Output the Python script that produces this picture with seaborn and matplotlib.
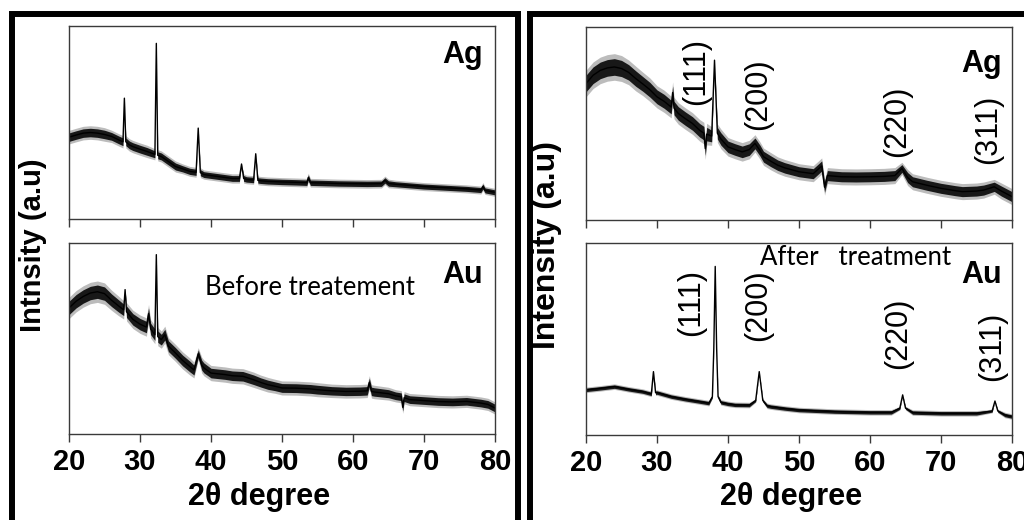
import matplotlib
matplotlib.use("Agg")
import matplotlib.pyplot as plt
from matplotlib.patches import Rectangle
from matplotlib.transforms import blended_transform_factory
import numpy as np
import pandas as pd
import seaborn as sns

# ---------------- XRD traces (2-theta in degrees, intensity in a.u.) ----------------
# Ag, before treatment
AG_BEFORE_X = [20, 21, 22, 23, 24, 25, 26, 27, 27.6, 27.8, 28.0, 28.5, 29, 30, 31,
               32.1, 32.3, 32.5, 33, 34, 35, 36, 37, 37.9, 38.2, 38.5, 39, 40, 41, 42,
               43, 44.0, 44.3, 44.6, 45, 46.0, 46.3, 46.6, 47, 48, 50, 52, 53.5, 53.7, 54,
               56, 58, 60, 62, 64, 64.5, 65, 66, 68, 70, 72, 74, 76, 78, 78.3, 78.6, 80]
AG_BEFORE_Y = [42.4, 43.5, 44.5, 44.8, 44.5, 43.8, 42.8, 41.0, 40.0, 62.6, 40.0, 38.4, 37.5, 36.2, 35.0,
               33.5, 91.0, 33.0, 32.4, 29.8, 27.2, 26.0, 24.7, 24.2, 47.1, 24.0, 23.0, 22.5, 22.0, 21.5,
               21.0, 21.0, 28.5, 21.0, 20.5, 20.2, 33.8, 20.0, 19.8, 19.5, 19.2, 19.0, 18.8, 21.5, 18.8,
               18.6, 18.4, 18.3, 18.2, 18.3, 20.0, 18.4, 18.0, 17.4, 16.8, 16.4, 16.0, 15.6, 15.0, 16.8, 14.8, 13.8]
AG_BEFORE_NOISE = [2.2, 2.2, 2.2, 2.2, 2.2, 2.2, 2.0, 2.0, 2.0, 0.0, 2.0, 2.0, 2.0, 2.0, 2.0,
                   1.8, 0.0, 1.8, 1.8, 1.8, 1.8, 1.6, 1.6, 1.6, 0.0, 1.6, 1.5, 1.5, 1.5, 1.5,
                   1.5, 1.5, 0.0, 1.5, 1.4, 1.4, 0.0, 1.4, 1.4, 1.4, 1.4, 1.4, 1.4, 1.4, 1.4,
                   1.4, 1.4, 1.4, 1.4, 1.4, 1.4, 1.4, 1.3, 1.3, 1.3, 1.3, 1.3, 1.3, 1.3, 1.3, 1.3, 1.3]

# Au, before treatment
AU_BEFORE_X = [20, 21, 22, 23, 24, 25, 26, 27, 27.7, 27.9, 28.1, 29, 30, 30.9, 31.2, 31.5,
               32.1, 32.3, 32.5, 33, 33.5, 34, 35, 36, 37, 37.6, 38.2, 38.7, 39, 40, 41, 42,
               43, 44.5, 46, 47, 48, 49, 50, 52, 54, 55, 57, 59, 61, 62.0, 62.3, 62.6, 63,
               65, 66, 66.8, 67.0, 67.2, 68, 70, 72, 74, 76, 78, 79, 80]
AU_BEFORE_Y = [66.0, 69.5, 72.0, 73.8, 74.5, 73.5, 70.0, 67.0, 65.0, 75.6, 64.0, 60.0, 57.5, 56.0, 63.0, 55.0,
               52.0, 93.9, 51.0, 49.4, 52.0, 46.0, 42.4, 38.5, 35.4, 33.5, 42.0, 36.0, 34.6, 31.9, 31.5, 31.1,
               30.5, 30.2, 28.4, 27.0, 25.8, 25.0, 24.1, 24.0, 23.6, 23.2, 22.6, 22.3, 22.4, 22.6, 27.0, 22.3, 22.0,
               21.1, 20.0, 19.5, 14.0, 19.0, 18.0, 17.5, 17.0, 16.8, 17.1, 16.2, 15.5, 13.6]
AU_BEFORE_NOISE = [3.5, 3.5, 3.5, 3.5, 3.5, 3.5, 3.3, 3.2, 3.0, 0.0, 3.0, 3.0, 3.0, 3.0, 3.0, 3.0,
                   3.0, 0.0, 3.0, 2.8, 2.8, 2.8, 2.8, 2.8, 2.8, 2.6, 2.0, 2.6, 2.6, 2.5, 2.5, 2.5,
                   2.5, 2.5, 2.5, 2.4, 2.4, 2.3, 2.3, 2.3, 2.3, 2.3, 2.2, 2.2, 2.2, 2.2, 2.2, 2.2, 2.2,
                   2.1, 2.0, 2.0, 2.0, 2.0, 2.0, 2.0, 2.0, 2.0, 2.0, 2.0, 2.0, 2.0]

# Ag, after treatment
AG_AFTER_X = [20, 21, 22, 23, 24, 25, 26, 27, 28, 29, 30, 31, 32, 32.2, 32.4, 33, 34, 35,
              36, 36.6, 36.8, 37.0, 37.7, 38.1, 38.5, 39, 40, 41, 42, 43, 43.8, 44.5, 45,
              46, 47, 48, 50, 52, 53.2, 53.6, 54, 56, 58, 60, 62, 63.5, 64.5, 65.3, 66,
              68, 70, 72, 73, 75, 76, 77.5, 78.5, 80]
AG_AFTER_Y = [70.7, 75.0, 77.5, 78.8, 79.3, 78.5, 76.5, 73.3, 70.5, 67.5, 63.8, 61.5, 58.5, 66.0, 58.0, 55.2, 52.5, 50.0,
              46.5, 45.0, 37.0, 44.5, 43.5, 82.8, 45.0, 42.0, 37.9, 36.5, 35.3, 36.5, 39.7, 36.0, 32.8,
              30.5, 28.4, 27.0, 25.0, 24.0, 28.0, 17.0, 23.0, 22.4, 22.3, 22.4, 22.6, 23.0, 26.7, 22.0, 19.8,
              18.0, 16.4, 15.2, 14.7, 15.0, 15.5, 17.2, 15.0, 12.1]
AG_AFTER_NOISE = [4.3, 4.3, 4.3, 4.3, 4.3, 4.2, 4.0, 4.0, 3.8, 3.8, 3.6, 3.6, 3.5, 3.5, 3.5, 3.5, 3.5, 3.5,
                  3.5, 3.5, 3.5, 3.5, 3.0, 0.0, 3.0, 3.2, 3.0, 3.0, 3.0, 3.0, 2.8, 2.8, 2.8,
                  2.8, 2.7, 2.7, 2.6, 2.6, 2.6, 2.6, 2.6, 2.6, 2.6, 2.6, 2.6, 2.6, 2.0, 2.6, 2.6,
                  2.6, 2.6, 2.6, 2.6, 2.6, 2.6, 2.4, 2.6, 2.6]

# Au, after treatment
AU_AFTER_X = [20, 22, 24, 26, 28, 29.2, 29.5, 29.8, 30, 32, 34, 36, 37.3, 37.8, 38.0, 38.2,
              38.4, 38.6, 39, 40, 41, 43, 43.9, 44.2, 44.4, 44.6, 44.9, 45.5, 46, 48, 50, 55,
              60, 63, 64.2, 64.6, 65.0, 66, 70, 75, 77.2, 77.6, 78.0, 79, 80]
AU_AFTER_Y = [23.5, 24.3, 25.2, 23.8, 22.6, 21.4, 33.0, 22.0, 22.1, 20.0, 18.6, 17.4, 16.6, 20.0, 45.0, 87.8,
              45.0, 20.0, 17.0, 16.2, 15.7, 15.6, 18.0, 27.0, 33.0, 27.0, 18.0, 15.2, 14.8, 13.8, 13.0, 12.2,
              11.8, 11.8, 14.0, 20.9, 14.0, 11.7, 11.3, 11.3, 12.5, 17.7, 12.5, 10.4, 9.6]
AU_AFTER_NOISE = [0.9, 0.9, 0.9, 0.9, 0.9, 0.9, 0.0, 0.9, 0.9, 0.9, 0.9, 0.9, 0.9, 0.6, 0.3, 0.0,
                  0.3, 0.6, 0.9, 0.9, 0.9, 0.9, 0.6, 0.3, 0.0, 0.3, 0.6, 0.9, 0.9, 0.9, 0.9, 0.9,
                  0.9, 0.9, 0.6, 0.0, 0.6, 0.9, 0.9, 0.9, 0.6, 0.0, 0.6, 0.9, 0.9]

# Miller-index annotations (peak position, vertical position as axes fraction)
HKL_LABELS = ["(111)", "(200)", "(220)", "(311)"]
HKL_AG_X = [35.5, 44.2, 63.8, 76.6]
HKL_AG_Y = [0.767, 0.653, 0.513, 0.472]
HKL_AU_X = [34.8, 44.2, 63.9, 77.2]
HKL_AU_Y = [0.688, 0.677, 0.531, 0.464]

X_TICKS = [20, 30, 40, 50, 60, 70, 80]

# ---------------- style ----------------
sns.set_theme(style="white")
plt.rcParams["font.family"] = ["Liberation Sans", "DejaVu Sans"]
plt.rcParams["text.color"] = "black"
plt.rcParams["xtick.color"] = "#3a3a3a"
plt.rcParams["xtick.labelcolor"] = "black"
plt.rcParams["axes.edgecolor"] = "#3a3a3a"
plt.rcParams["axes.linewidth"] = 1.0

W, H = 1024, 520
fig = plt.figure(figsize=(W / 100, H / 100), dpi=100)
fig.patch.set_facecolor("white")


def px_axes(x0, y0, x1, y1):
    """Axes placed by pixel box (left, top, right, bottom)."""
    return fig.add_axes([x0 / W, 1 - y1 / H, (x1 - x0) / W, (y1 - y0) / H])


def draw_trace(ax, xs, ys, noise):
    df = pd.DataFrame({"two_theta": xs, "intensity": ys})
    y = np.asarray(ys, float)
    n = np.asarray(noise, float)
    # faint outer fringe, dense core, then the mean trace on top
    ax.fill_between(xs, y - 1.6 * n, y + 1.6 * n, color="#222222", alpha=0.30, linewidth=0)
    ax.fill_between(xs, y - n, y + n, color="#0a0a0a", alpha=0.92, linewidth=0)
    sns.lineplot(data=df, x="two_theta", y="intensity", ax=ax, color="black",
                 linewidth=1.0, estimator=None, sort=False)


def style_axes(ax, show_labels):
    ax.set_xlim(20, 80)
    ax.set_ylim(0, 100)
    ax.set_yticks([])
    ax.set_xticks(X_TICKS)
    ax.tick_params(axis="x", direction="out", length=6, width=1.0, color="#3a3a3a",
                   bottom=True, top=False, pad=4, labelbottom=show_labels,
                   labelsize=21, labelcolor="black")
    for lab in ax.get_xticklabels():
        lab.set_fontweight("bold")
    ax.set_xlabel("")
    ax.set_ylabel("")
    for sp in ax.spines.values():
        sp.set_visible(True)
        sp.set_color("#3a3a3a")


def corner_tag(ax, text, xfrac, yfrac):
    ax.text(xfrac, yfrac, text, transform=ax.transAxes, ha="right", va="baseline",
            fontsize=22, fontweight="bold", color="black")


# ---------------- left panel: before treatment ----------------
ax_l_ag = px_axes(69, 26, 495, 219)
ax_l_au = px_axes(69, 243, 495, 434)
draw_trace(ax_l_ag, AG_BEFORE_X, AG_BEFORE_Y, AG_BEFORE_NOISE)
draw_trace(ax_l_au, AU_BEFORE_X, AU_BEFORE_Y, AU_BEFORE_NOISE)
style_axes(ax_l_ag, False)
style_axes(ax_l_au, True)
corner_tag(ax_l_ag, "Ag", 0.972, 0.808)
corner_tag(ax_l_au, "Au", 0.972, 0.790)
ax_l_au.text(0.319, 0.728, "Before treatement", transform=ax_l_au.transAxes,
             ha="left", va="baseline", fontsize=18.5, family=["Lato", "DejaVu Sans"])

# ---------------- right panel: after treatment ----------------
ax_r_ag = px_axes(586, 27, 1012, 220)
ax_r_au = px_axes(586, 243, 1012, 435)
draw_trace(ax_r_ag, AG_AFTER_X, AG_AFTER_Y, AG_AFTER_NOISE)
draw_trace(ax_r_au, AU_AFTER_X, AU_AFTER_Y, AU_AFTER_NOISE)
style_axes(ax_r_ag, False)
style_axes(ax_r_au, True)
corner_tag(ax_r_ag, "Ag", 0.977, 0.767)
corner_tag(ax_r_au, "Au", 0.977, 0.790)
ax_r_au.text(0.408, 0.885, "After   treatment", transform=ax_r_au.transAxes,
             ha="left", va="baseline", fontsize=18.5, family=["Lato", "DejaVu Sans"])

for ax, xs, ys in ((ax_r_ag, HKL_AG_X, HKL_AG_Y), (ax_r_au, HKL_AU_X, HKL_AU_Y)):
    tr = blended_transform_factory(ax.transData, ax.transAxes)
    for lab, xv, yv in zip(HKL_LABELS, xs, ys):
        ax.text(xv, yv, lab, transform=tr, rotation=90, ha="center", va="center",
                fontsize=22, color="black")

# ---------------- shared labels ----------------
fig.text(259 / W, 1 - 505 / H, "2θ degree", ha="center", va="baseline",
         fontsize=22, fontweight="bold")
fig.text(791 / W, 1 - 505 / H, "2θ degree", ha="center", va="baseline",
         fontsize=22, fontweight="bold")
fig.text(33 / W, 1 - 245 / H, "Intnsity (a.u)", rotation=90, ha="center", va="center",
         fontsize=21, fontweight="bold")
fig.text(547 / W, 1 - 245 / H, "Intensity (a.u)", rotation=90, ha="center", va="center",
         fontsize=23, fontweight="bold")

# ---------------- panel frames ----------------
fig.add_artist(Rectangle((12 / W, -0.05), (518 - 12) / W, 1.05 - 14.5 / H,
                         transform=fig.transFigure, fill=False, edgecolor="black",
                         linewidth=4.3, clip_on=False))
fig.add_artist(Rectangle((530 / W, -0.05), 1.05 - 530 / W, 1.05 - 14.5 / H,
                         transform=fig.transFigure, fill=False, edgecolor="black",
                         linewidth=4.3, clip_on=False))

fig.savefig("out.png", dpi=100)
